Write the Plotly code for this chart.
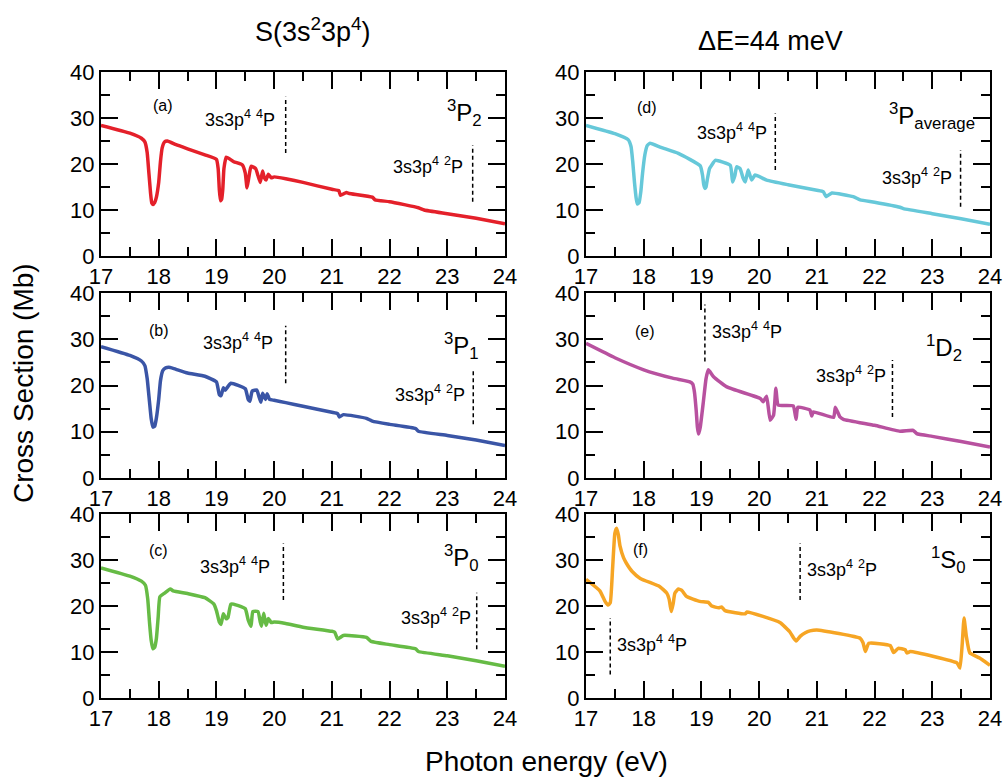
import plotly.graph_objects as go

# ---------------- data ----------------
energy_a = [17.0, 17.5, 17.7, 17.76, 17.8, 17.83, 17.86, 17.88, 17.9, 17.93, 17.96, 18.0, 18.03, 18.06,
            18.1, 18.15, 18.3, 18.5, 18.8, 19.0, 19.03, 19.05, 19.07, 19.09, 19.11, 19.13, 19.17, 19.3,
            19.45, 19.5, 19.53, 19.56, 19.6, 19.68, 19.72, 19.76, 19.8, 19.83, 19.86, 19.9, 19.95, 20.0,
            20.2, 20.5, 21.0, 21.12, 21.15, 21.25, 21.3, 21.7, 21.75, 22.0, 22.5, 22.6, 23.0, 23.5, 24.0]
xs_a = [28.4, 26.7, 25.6, 24.8, 22.5, 18.0, 13.5, 11.5, 11.2, 11.6, 12.8, 16.0, 20.5, 23.5,
        24.8, 25.0, 24.2, 23.3, 22.0, 21.0, 19.0, 14.5, 12.0, 12.3, 14.5, 19.0, 21.5, 20.5,
        19.8, 18.0, 14.8, 17.0, 19.5, 19.0, 17.5, 16.0, 18.5, 17.0, 16.5, 17.8, 17.0, 17.2,
        16.8, 16.0, 14.5, 14.2, 13.2, 13.8, 13.6, 12.8, 12.2, 11.8, 10.5, 10.0, 9.2, 8.2, 7.0]

energy_b = [17.0, 17.5, 17.7, 17.76, 17.8, 17.84, 17.87, 17.9, 17.93, 17.96, 18.0, 18.03, 18.07, 18.12,
            18.2, 18.3, 18.5, 18.8, 19.0, 19.05, 19.08, 19.12, 19.15, 19.25, 19.5, 19.55, 19.58, 19.62,
            19.7, 19.74, 19.77, 19.8, 19.85, 19.88, 19.92, 20.0, 20.2, 20.5, 21.0, 21.1, 21.13, 21.2,
            21.6, 21.7, 22.0, 22.45, 22.5, 23.0, 23.5, 24.0]
xs_b = [28.4, 26.5, 25.3, 24.3, 21.5, 16.5, 12.8, 11.0, 11.2, 13.0, 17.0, 21.0, 23.2, 23.8,
        23.9, 23.5, 22.7, 22.0, 20.8, 18.0, 17.8, 19.5, 19.0, 20.5, 19.3, 17.0, 16.6, 18.8,
        19.0, 17.5, 16.4, 18.3, 17.0, 18.2, 17.0, 16.8, 16.3, 15.5, 14.2, 13.9, 13.2, 13.7,
        12.9, 12.3, 11.6, 10.7, 10.1, 9.2, 8.2, 7.0]

energy_c = [17.0, 17.5, 17.7, 17.77, 17.81, 17.84, 17.87, 17.9, 17.93, 17.96, 17.99, 18.02, 18.1, 18.2,
            18.25, 18.5, 18.8, 18.95, 19.0, 19.05, 19.08, 19.12, 19.17, 19.2, 19.25, 19.35, 19.5, 19.55,
            19.6, 19.63, 19.72, 19.76, 19.78, 19.82, 19.86, 19.9, 19.95, 20.0, 20.2, 20.5, 21.0, 21.05,
            21.1, 21.15, 21.2, 21.6, 21.68, 22.0, 22.45, 22.5, 23.0, 23.5, 24.0]
xs_c = [28.3, 26.5, 25.4, 24.5, 21.5, 16.5, 12.5, 10.7, 11.0, 13.0, 17.5, 22.0, 22.8, 23.7,
        23.3, 22.7, 21.8, 20.5, 19.0, 16.5, 16.0, 18.3, 17.2, 17.5, 20.4, 20.2, 19.4, 17.0,
        15.6, 18.8, 18.8, 16.5, 15.6, 18.4, 15.8, 17.3, 16.4, 16.5, 16.2, 15.4, 14.5, 14.3,
        12.8, 13.2, 13.6, 13.2, 12.3, 11.6, 10.7, 10.1, 9.2, 8.1, 6.9]

energy_d = [17.0, 17.5, 17.73, 17.78, 17.81, 17.84, 17.87, 17.89, 17.92, 17.95, 17.98, 18.02, 18.06, 18.11,
            18.3, 18.6, 18.98, 19.02, 19.04, 19.06, 19.08, 19.1, 19.14, 19.18, 19.24, 19.5, 19.54, 19.58,
            19.61, 19.67, 19.72, 19.76, 19.81, 19.87, 19.93, 20.13, 20.5, 21.0, 21.11, 21.16, 21.26,
            21.63, 21.75, 22.0, 22.44, 22.5, 23.0, 23.5, 24.0]
xs_d = [28.4, 26.6, 25.3, 23.8, 20.5, 16.0, 12.5, 11.3, 11.6, 14.0, 18.0, 22.0, 24.0, 24.5,
        23.6, 22.3, 19.6, 17.5, 15.5, 14.7, 15.0, 16.5, 19.0, 19.8, 20.8, 19.7, 16.1, 17.5,
        19.4, 19.0, 17.0, 16.1, 18.7, 16.5, 17.6, 16.5, 15.5, 14.3, 14.0, 12.9, 13.7,
        12.9, 12.2, 11.7, 10.6, 10.3, 9.2, 8.1, 6.9]

energy_e = [17.0, 17.5, 18.0, 18.5, 18.8, 18.85, 18.88, 18.91, 18.93, 18.95, 18.98, 19.03, 19.08, 19.12,
            19.21, 19.44, 20.02, 20.07, 20.13, 20.19, 20.25, 20.29, 20.33, 20.59, 20.64, 20.67, 20.88,
            20.91, 20.94, 21.29, 21.32, 21.4, 21.46, 22.0, 22.44, 22.67, 22.73, 23.0, 23.5, 24.0]
xs_e = [29.1, 26.0, 23.4, 21.6, 20.8, 20.3, 18.5, 14.5, 11.0, 9.5, 11.0, 16.1, 21.5, 23.4,
        21.9, 19.7, 17.2, 16.5, 17.7, 12.5, 13.6, 19.4, 15.8, 15.6, 12.7, 15.3, 14.7,
        13.4, 14.3, 13.1, 15.3, 13.2, 12.7, 11.4, 10.1, 10.3, 9.6, 9.0, 7.9, 6.7]

energy_f = [17.0, 17.24, 17.33, 17.38, 17.42, 17.46, 17.5, 17.53, 17.56, 17.59, 17.65, 17.7, 17.8, 17.94,
            18.28, 18.4, 18.44, 18.46, 18.48, 18.51, 18.54, 18.6, 18.66, 18.74, 18.97, 19.12, 19.18,
            19.3, 19.35, 19.41, 19.76, 19.79, 20.36, 20.53, 20.6, 20.64, 20.71, 20.8, 20.88, 21.0,
            21.75, 21.8, 21.84, 21.9, 22.27, 22.33, 22.41, 22.53, 22.56, 22.62, 23.43, 23.48,
            23.52, 23.55, 23.59, 23.65, 23.82, 24.0]
xs_f = [25.8, 23.3, 21.0, 20.2, 20.7, 28.0, 35.8, 36.9, 35.5, 33.0, 30.5, 29.3, 27.5, 26.0,
        24.2, 22.8, 21.5, 20.0, 18.8, 20.5, 22.8, 23.7, 23.4, 22.1, 21.0, 20.8, 20.0,
        19.6, 19.8, 19.0, 18.3, 18.7, 16.4, 14.4, 13.0, 12.4, 13.4, 14.2, 14.6, 14.8,
        13.0, 12.0, 10.1, 11.9, 11.4, 9.9, 10.8, 10.5, 9.8, 10.1, 7.6, 6.5,
        12.0, 17.4, 13.4, 9.8, 8.7, 7.1]

panels = [
    dict(x=energy_a, y=xs_a, color="#e4202a", tag="(a)", tagpos=(18.08, 32.8),
         term="<sup>3</sup>P<sub>2</sub>", termpos=(23.3, 31.0),
         p4=(19.41, 29.9), p4dash=(20.2, 22.4, 34.6), p2=(22.67, 19.7), p2dash=(23.44, 11.8, 24.1)),
    dict(x=energy_d, y=xs_d, color="#66c8d9", tag="(d)", tagpos=(18.05, 32.3),
         term="<sup>3</sup>P<sub>average</sub>", termpos=(23.0, 30.5),
         p4=(19.53, 27.0), p4dash=(20.28, 18.7, 31.0), p2=(22.74, 17.2), p2dash=(23.49, 10.7, 23.0)),
    dict(x=energy_b, y=xs_b, color="#3a55a6", tag="(b)", tagpos=(18.0, 32.0),
         term="<sup>3</sup>P<sub>1</sub>", termpos=(23.25, 28.5),
         p4=(19.37, 29.5), p4dash=(20.2, 20.5, 32.9), p2=(22.7, 18.3), p2dash=(23.45, 11.6, 23.7)),
    dict(x=energy_e, y=xs_e, color="#b8519f", tag="(e)", tagpos=(18.02, 31.7),
         term="<sup>1</sup>D<sub>2</sub>", termpos=(23.2, 28.2),
         p4=(19.79, 32.0), p4dash=(19.06, 25.2, 37.5), p2=(21.59, 22.3), p2dash=(22.31, 13.2, 25.5)),
    dict(x=energy_c, y=xs_c, color="#66bb45", tag="(c)", tagpos=(18.0, 32.0),
         term="<sup>3</sup>P<sub>0</sub>", termpos=(23.25, 30.4),
         p4=(19.33, 28.9), p4dash=(20.16, 21.3, 33.6), p2=(22.8, 17.7), p2dash=(23.51, 10.6, 22.9)),
    dict(x=energy_f, y=xs_f, color="#f6a524", tag="(f)", tagpos=(17.94, 32.2),
         term="<sup>1</sup>S<sub>0</sub>", termpos=(23.28, 30.0),
         p4=(18.14, 11.9), p4dash=(17.42, 5.1, 17.4), p2=(21.43, 28.2), p2dash=(20.71, 21.3, 33.6)),
]

x_range = [17, 24]
y_range = [0, 40]
label_4P = "3s3p<sup>4</sup> <sup>4</sup>P"
label_2P = "3s3p<sup>4</sup> <sup>2</sup>P"

FONT = "Liberation Sans, Arial, Helvetica, sans-serif"
W, H = 1005, 780

col_px = [(101, 505), (586, 990)]
row_px = [(72, 256), (293, 478), (514, 698)]


def suf(k):
    return "" if k == 1 else str(k)


fig = go.Figure()
layout = {}
for i, p in enumerate(panels):
    r, c = i // 2, i % 2
    n = i + 1
    m = n + 6                       # overlay axes carrying the minor ticks
    xr, yr = f"x{suf(n)}", f"y{suf(n)}"
    xm, ym = f"x{m}", f"y{m}"
    dom_x = [col_px[c][0] / W, col_px[c][1] / W]
    dom_y = [1 - row_px[r][1] / H, 1 - row_px[r][0] / H]

    # main axes: frame, major ticks, labels
    layout[f"xaxis{suf(n)}"] = dict(domain=dom_x, anchor=yr, range=x_range, dtick=1, automargin=False,
                                    ticks="inside", ticklen=17, tickwidth=1.5, tickcolor="black",
                                    showline=True, linewidth=2, linecolor="black", mirror="allticks",
                                    showgrid=False, zeroline=False,
                                    tickfont=dict(family=FONT, size=22, color="black"))
    layout[f"yaxis{suf(n)}"] = dict(domain=dom_y, anchor=xr, range=y_range, dtick=10, automargin=False,
                                    ticks="inside", ticklen=17, tickwidth=1.5, tickcolor="black",
                                    showline=True, linewidth=2, linecolor="black", mirror="allticks",
                                    showgrid=False, zeroline=False,
                                    tickfont=dict(family=FONT, size=22, color="black"))
    # overlay axes: minor ticks only
    layout[f"xaxis{m}"] = dict(overlaying=xr, anchor=ym, side="bottom", range=x_range, dtick=0.5,
                               automargin=False, ticks="inside", ticklen=9, tickwidth=1.5,
                               tickcolor="black", showline=True, linewidth=2, linecolor="black",
                               mirror="allticks", showgrid=False, zeroline=False, showticklabels=False)
    layout[f"yaxis{m}"] = dict(overlaying=yr, anchor=xm, side="left", range=y_range, dtick=5,
                               automargin=False, ticks="inside", ticklen=9, tickwidth=1.5,
                               tickcolor="black", showline=True, linewidth=2, linecolor="black",
                               mirror="allticks", showgrid=False, zeroline=False, showticklabels=False)

    fig.add_trace(go.Scatter(x=p["x"], y=p["y"], xaxis=xm, yaxis=ym, mode="lines",
                             line=dict(color=p["color"], width=0), opacity=0,
                             hoverinfo="skip", showlegend=False))
    fig.add_trace(go.Scatter(x=p["x"], y=p["y"], xaxis=xr, yaxis=yr, mode="lines",
                             line=dict(color=p["color"], width=3.5, shape="spline", smoothing=0.4),
                             showlegend=False))
    for d in (p["p4dash"], p["p2dash"]):
        fig.add_trace(go.Scatter(x=[d[0], d[0]], y=[d[1], d[2]], xaxis=xr, yaxis=yr, mode="lines",
                                 line=dict(color="black", width=1.5, dash="4px,3px"),
                                 hoverinfo="skip", showlegend=False))

    ann_common = dict(xref=xr, yref=yr, showarrow=False, xanchor="center", yanchor="middle")
    fig.add_annotation(x=p["tagpos"][0], y=p["tagpos"][1], text=p["tag"],
                       font=dict(family=FONT, size=16, color="black"), **ann_common)
    fig.add_annotation(x=p["termpos"][0], y=p["termpos"][1], text=p["term"],
                       font=dict(family=FONT, size=24, color="black"), **ann_common)
    fig.add_annotation(x=p["p4"][0], y=p["p4"][1], text=label_4P,
                       font=dict(family=FONT, size=18, color="black"), **ann_common)
    fig.add_annotation(x=p["p2"][0], y=p["p2"][1], text=label_2P,
                       font=dict(family=FONT, size=18, color="black"), **ann_common)

fig.update_layout(**layout)

# titles
title_common = dict(xref="paper", yref="paper", showarrow=False, xanchor="center", yanchor="middle")
fig.add_annotation(x=313 / W, y=1 - 30 / H, text="S(3s<sup>2</sup>3p<sup>4</sup>)",
                   font=dict(family=FONT, size=27, color="black"), **title_common)
fig.add_annotation(x=770 / W, y=1 - 41 / H, text="ΔE=44 meV",
                   font=dict(family=FONT, size=27, color="black"), **title_common)
fig.add_annotation(x=546 / W, y=1 - 761 / H, text="Photon energy (eV)",
                   font=dict(family=FONT, size=28, color="black"), **title_common)
fig.add_annotation(x=23 / W, y=1 - 383 / H, textangle=-90, text="Cross Section (Mb)",
                   font=dict(family=FONT, size=28, color="black"), **title_common)

fig.update_layout(width=W, height=H, margin=dict(l=0, r=0, t=0, b=0), template="none",
                  paper_bgcolor="white", plot_bgcolor="white", showlegend=False)

fig.write_html("out.html")
